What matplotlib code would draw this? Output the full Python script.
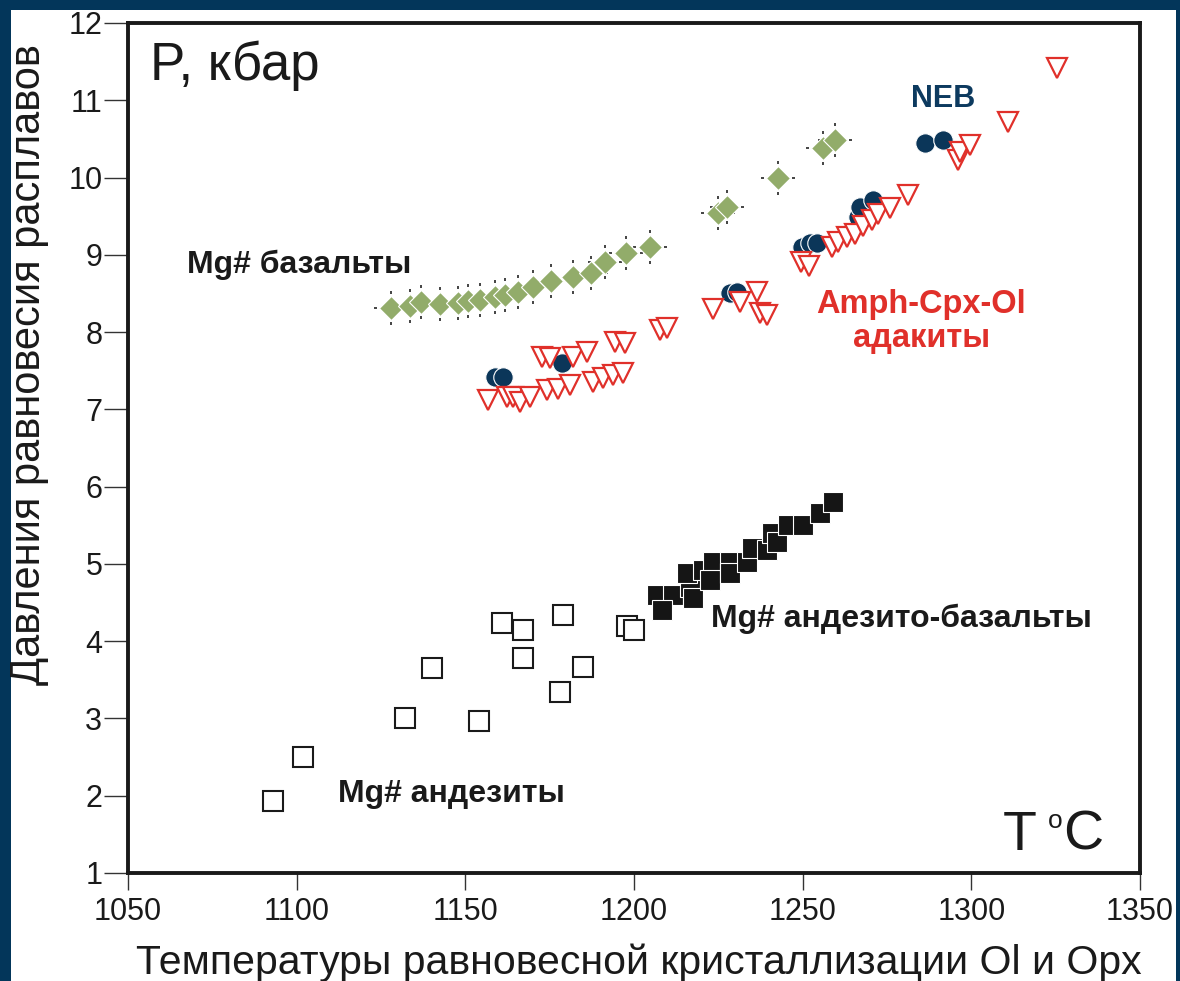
import matplotlib
matplotlib.use("Agg")
import matplotlib.pyplot as plt
from matplotlib.path import Path
from matplotlib.patches import Rectangle

plt.rcParams['font.family'] = ['Liberation Sans', 'DejaVu Sans']

# ---- data: temperature (°C) and pressure (kbar) ----
andesite_T = [1093, 1102, 1132, 1140, 1154, 1161, 1167, 1167, 1179, 1178, 1185, 1198, 1200]
andesite_P = [1.93, 2.50, 3.00, 3.65, 2.97, 4.23, 4.15, 3.78, 4.34, 3.34, 3.67, 4.20, 4.14]

andbas_T = [1206.8, 1211.6, 1208.3, 1216.6, 1217.5, 1215.7, 1220.5, 1223.4, 1222.5, 1228.5,
            1228.5, 1233.5, 1235.0, 1239.4, 1240.9, 1242.4, 1245.6, 1250.1, 1255.1, 1259.0]
andbas_P = [4.60, 4.60, 4.40, 4.70, 4.56, 4.88, 4.92, 5.02, 4.79, 5.02,
            4.88, 5.02, 5.21, 5.18, 5.40, 5.28, 5.50, 5.50, 5.66, 5.80]

basalt_T = [1128.0, 1133.6, 1136.9, 1142.5, 1147.8, 1150.8, 1154.3, 1158.8, 1161.8, 1165.6,
            1170.1, 1175.4, 1181.9, 1187.3, 1191.4, 1197.6, 1204.7, 1224.9, 1227.6, 1242.7,
            1256.0, 1259.6]
basalt_P = [8.31, 8.34, 8.39, 8.36, 8.38, 8.40, 8.42, 8.45, 8.48, 8.52,
            8.58, 8.66, 8.71, 8.77, 8.91, 9.02, 9.10, 9.54, 9.62, 9.99,
            10.38, 10.49]

adakite_T = [1156.7, 1162.4, 1164.1, 1166.2, 1169.2, 1174.2, 1177.5, 1181.0, 1187.8, 1190.8,
             1193.8, 1196.7, 1172.7, 1175.1, 1181.9, 1186.1, 1194.4, 1197.3, 1207.7, 1209.8,
             1223.4, 1231.4, 1236.5, 1237.4, 1239.4, 1249.5, 1251.9, 1258.7, 1260.5, 1263.1,
             1265.5, 1267.9, 1270.5, 1272.3, 1275.9, 1281.2, 1296.0, 1296.6, 1299.6, 1310.9,
             1325.4]
adakite_P = [7.12, 7.16, 7.16, 7.10, 7.16, 7.25, 7.26, 7.32, 7.35, 7.41,
             7.44, 7.47, 7.68, 7.66, 7.68, 7.74, 7.87, 7.86, 8.03, 8.05,
             8.30, 8.39, 8.52, 8.25, 8.22, 8.91, 8.86, 9.10, 9.17, 9.23,
             9.27, 9.37, 9.45, 9.53, 9.61, 9.77, 10.23, 10.33, 10.42, 10.72,
             11.42]

neb_T = [1158.8, 1161.2, 1178.7, 1228.5, 1230.5, 1249.8, 1252.2, 1254.2, 1266.4, 1267.0,
         1270.8, 1286.3, 1291.6]
neb_P = [7.42, 7.42, 7.60, 8.51, 8.52, 9.10, 9.15, 9.15, 9.49, 9.62,
         9.71, 10.45, 10.49]

x_ticks = [1050, 1100, 1150, 1200, 1250, 1300, 1350]
y_ticks = [1, 2, 3, 4, 5, 6, 7, 8, 9, 10, 11, 12]

NAVY = '#03365a'
DOT_NAVY = '#0b3659'
GREEN = '#92ac6a'
RED = '#e0302a'
INK = '#1a1a1a'

W, H = 1180, 981
fig = plt.figure(figsize=(W / 100, H / 100), dpi=100, facecolor=NAVY)
fig.patches.append(Rectangle((11 / W, 0), (1176 - 11) / W, (H - 10) / H,
                             transform=fig.transFigure, facecolor='white',
                             edgecolor='none', zorder=-1))

ax = fig.add_axes([128 / W, 1 - 873 / H, (1140 - 128) / W, (873 - 23) / H])
ax.set_xlim(1050, 1350)
ax.set_ylim(1, 12)
ax.set_xticks(x_ticks)
ax.set_yticks(y_ticks)
for s in ax.spines.values():
    s.set_linewidth(2.8)
    s.set_color(INK)
ax.tick_params(axis='both', direction='out', width=1.0, color='#333333',
               labelsize=22, labelcolor=INK)
ax.tick_params(axis='y', length=17, pad=1.5)
ax.tick_params(axis='x', length=12, pad=5)

# dashed cross drawn around each basalt diamond
r0, r1 = 14.0, 17.5
cross = Path([(-r1, 0), (-r0, 0), (r0, 0), (r1, 0), (0, r0), (0, r1), (0, -r0), (0, -r1)],
             [Path.MOVETO, Path.LINETO] * 4)

ax.plot(andesite_T, andesite_P, ls='none', marker='s', ms=15, mfc='white',
        mec=INK, mew=1.5, zorder=3)
ax.plot(andbas_T, andbas_P, ls='none', marker='s', ms=15, mfc='#151515',
        mec='white', mew=0.8, zorder=3)
ax.plot(basalt_T, basalt_P, ls='none', marker=cross, ms=25, mfc='none',
        mec='#111111', mew=1.1, zorder=3)
ax.plot(basalt_T, basalt_P, ls='none', marker='D', ms=12.5, mfc=GREEN,
        mec='white', mew=0.8, zorder=4)
ax.plot(neb_T, neb_P, ls='none', marker='o', ms=14, mfc=DOT_NAVY,
        mec='white', mew=0.8, zorder=4)
ax.plot(adakite_T, adakite_P, ls='none', marker='v', ms=14, mfc='white',
        mec=RED, mew=1.6, zorder=5)

# annotations
ax.text(1056.5, 11.26, 'P, кбар', fontsize=38, color=INK, va='baseline', ha='left')
ax.text(1309.4, 1.30, 'T', fontsize=40, color=INK, va='baseline', ha='left')
ax.text(1322.7, 1.58, 'o', fontsize=19, color=INK, va='baseline', ha='left')
ax.text(1327.2, 1.30, 'C', fontsize=40, color=INK, va='baseline', ha='left')
ax.text(1067.5, 8.77, 'Mg# базальты', fontsize=23, fontweight='bold', color=INK,
        va='baseline', ha='left')
ax.text(1112.3, 1.92, 'Mg# андезиты', fontsize=23, fontweight='bold', color=INK,
        va='baseline', ha='left')
ax.text(1222.8, 4.18, 'Mg# андезито-базальты', fontsize=23, fontweight='bold',
        color=INK, va='baseline', ha='left')
ax.text(1291.6, 10.91, 'NEB', fontsize=22, fontweight='bold', color='#0d3a5f',
        va='baseline', ha='center')
ax.text(1285.1, 8.25, 'Amph-Cpx-Ol', fontsize=23.5, fontweight='bold', color=RED,
        va='baseline', ha='center')
ax.text(1285.1, 7.81, 'адакиты', fontsize=23.5, fontweight='bold', color=RED,
        va='baseline', ha='center')

fig.text(29 / W, 1 - 365 / H, 'Давления равновесия расплавов', fontsize=30,
         rotation=90, ha='center', va='center', color=INK)
fig.text(639 / W, 7 / H, 'Температуры равновесной кристаллизации Ol и Opx',
         fontsize=29.5, ha='center', va='baseline', color=INK)

fig.savefig('out.png', dpi=100, facecolor=NAVY)
